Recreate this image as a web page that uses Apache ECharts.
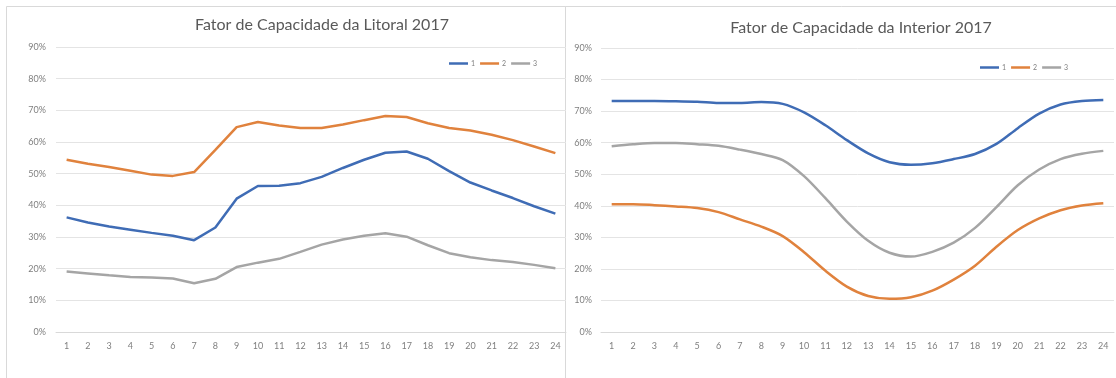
<!DOCTYPE html>
<html>
<head>
<meta charset="utf-8">
<script src="https://cdn.jsdelivr.net/npm/echarts@6/dist/echarts.min.js"></script>
<style>
  html, body { margin: 0; padding: 0; background: #fff; }
  #chart { width: 1116px; height: 378px; }
</style>
</head>
<body>
<div id="chart"></div>
<script>
// Hours of the day
const hours = ['1','2','3','4','5','6','7','8','9','10','11','12','13','14','15','16','17','18','19','20','21','22','23','24'];

// Capacity factor (%) — Litoral region
const litoral1 = [36.2, 34.6, 33.3, 32.3, 31.3, 30.4, 29.0, 33.0, 42.1, 46.1, 46.2, 47.0, 49.0, 51.8, 54.4, 56.6, 57.0, 54.7, 50.8, 47.2, 44.7, 42.3, 39.7, 37.4];
const litoral2 = [54.4, 53.1, 52.1, 50.9, 49.7, 49.3, 50.5, 57.5, 64.7, 66.3, 65.2, 64.4, 64.4, 65.5, 66.9, 68.2, 67.9, 65.9, 64.4, 63.6, 62.3, 60.6, 58.6, 56.5];
const litoral3 = [19.1, 18.5, 17.9, 17.4, 17.2, 16.9, 15.4, 16.8, 20.5, 21.9, 23.1, 25.3, 27.6, 29.2, 30.4, 31.2, 30.1, 27.4, 24.9, 23.6, 22.7, 22.1, 21.2, 20.1];

// Capacity factor (%) — Interior region
const interior1 = [73.2, 73.2, 73.2, 73.1, 73.0, 72.6, 72.6, 72.9, 72.3, 69.6, 65.5, 60.8, 56.6, 53.8, 53.0, 53.5, 54.8, 56.4, 59.6, 64.6, 69.2, 72.1, 73.2, 73.5];
const interior2 = [40.5, 40.5, 40.2, 39.8, 39.3, 38.0, 35.7, 33.4, 30.4, 25.3, 19.4, 14.4, 11.4, 10.5, 11.0, 13.1, 16.6, 21.0, 27.0, 32.3, 36.0, 38.6, 40.1, 40.8];
const interior3 = [58.9, 59.5, 59.9, 59.9, 59.5, 59.0, 57.8, 56.4, 54.5, 49.4, 42.4, 35.0, 28.9, 25.1, 23.9, 25.4, 28.3, 33.0, 39.6, 46.5, 51.5, 54.8, 56.5, 57.4];

// Y axis ticks (%)
const yMin = 0, yMax = 90, yStep = 10;

const colors = ['#3F6CB5', '#E0823D', '#A5A5A5'];
const font = 'Lato, "Open Sans", "Liberation Sans", sans-serif';

function xAxis(gridIndex) {
  return {
    type: 'category', gridIndex, data: hours, boundaryGap: true,
    axisLine: { show: true, lineStyle: { color: '#d9d9d9', width: 1 } },
    axisTick: { show: false },
    axisLabel: { color: '#7f7f7f', fontSize: 9, fontFamily: font, margin: 10 }
  };
}
function yAxis(gridIndex, margin) {
  return {
    type: 'value', gridIndex, min: yMin, max: yMax, interval: yStep,
    axisLine: { show: false }, axisTick: { show: false },
    splitLine: { lineStyle: { color: '#e4e4e4', width: 1 } },
    axisLabel: { color: '#7f7f7f', fontSize: 9, fontFamily: font, margin, formatter: '{value}%' }
  };
}
function line(name, data, idx, smooth) {
  return {
    name, type: 'line', data, xAxisIndex: idx, yAxisIndex: idx,
    smooth, showSymbol: false, symbol: 'none',
    lineStyle: { width: 2.5, color: colors[+name - 1] },
    itemStyle: { color: colors[+name - 1] },
    emphasis: { disabled: true }, animation: false
  };
}
function legend(left, top) {
  return {
    left, top, orient: 'horizontal', itemWidth: 19, itemHeight: 2.5, itemGap: 5,
    icon: 'rect', padding: 0,
    textStyle: { fontSize: 7, color: '#7f7f7f', fontFamily: font, padding: [0, 0, 0, -2] },
    data: ['1', '2', '3']
  };
}

const chart = echarts.init(document.getElementById('chart'), null, { renderer: 'canvas' });
chart.setOption({
  animation: false,
  backgroundColor: '#ffffff',
  title: [
    { text: 'Fator de Capacidade da Litoral 2017', left: 322, top: 17, textAlign: 'center', padding: 0,
      textStyle: { fontSize: 16, fontWeight: 'normal', color: '#595959', fontFamily: font } },
    { text: 'Fator de Capacidade da Interior 2017', left: 861, top: 20, textAlign: 'center', padding: 0,
      textStyle: { fontSize: 16, fontWeight: 'normal', color: '#595959', fontFamily: font } }
  ],
  legend: [legend(449, 60), legend(980, 64)],
  grid: [
    { left: 56, right: 550, top: 47, bottom: 46 },
    { left: 601, right: 2, top: 48, bottom: 46 }
  ],
  xAxis: [xAxis(0), xAxis(1)],
  yAxis: [yAxis(0, 10), yAxis(1, 9)],
  series: [
    line('1', litoral1, 0, false),
    line('2', litoral2, 0, false),
    line('3', litoral3, 0, false),
    line('1', interior1, 1, 0.3),
    line('2', interior2, 1, 0.3),
    line('3', interior3, 1, 0.3)
  ],
  graphic: [
    { type: 'rect', silent: true, z: -1, shape: { x: 6.5, y: 6.5, width: 559, height: 420 },
      style: { fill: 'none', stroke: '#d9d9d9', lineWidth: 1 } },
    { type: 'rect', silent: true, z: -1, shape: { x: 565.5, y: 6.5, width: 600, height: 420 },
      style: { fill: 'none', stroke: '#d9d9d9', lineWidth: 1 } }
  ]
});
</script>
</body>
</html>
